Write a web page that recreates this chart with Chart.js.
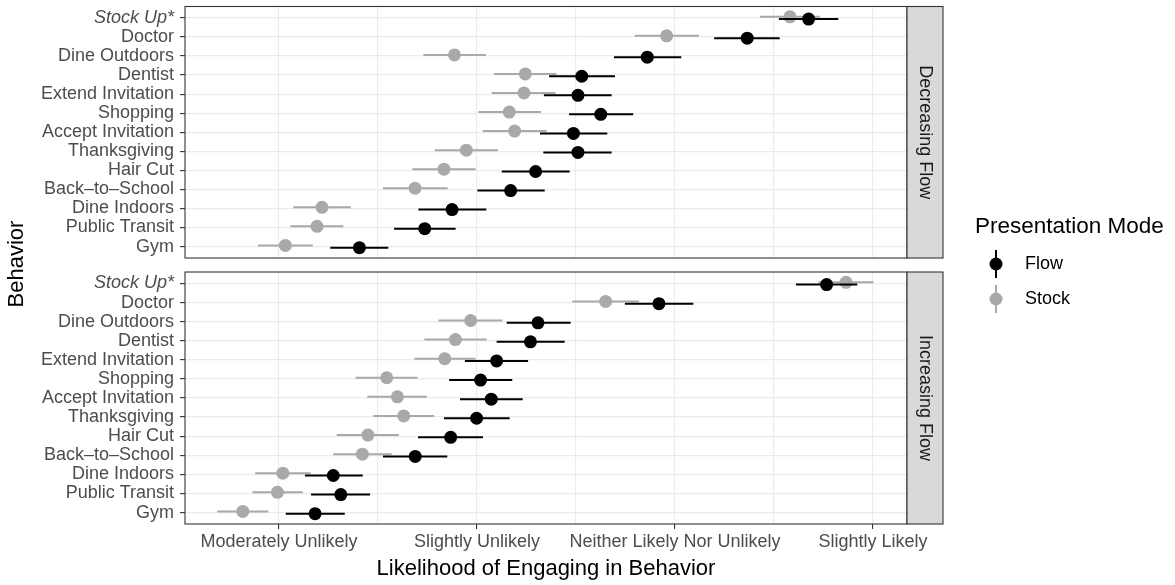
<!DOCTYPE html>
<html>
<head>
<meta charset="utf-8">
<script src="https://cdn.jsdelivr.net/npm/chart.js@4.4.1/dist/chart.umd.min.js"></script>
<style>
  html, body { margin: 0; padding: 0; background: #fff; }
  #wrap { position: relative; width: 1175px; height: 585px; }
  canvas { position: absolute; left: 0; top: 0; }
</style>
</head>
<body>
<div id="wrap">
  <canvas id="topPanel" width="1175" height="585"></canvas>
  <canvas id="bottomPanel" width="1175" height="585"></canvas>
</div>
<script>
// Behaviors, top to bottom as shown in each panel
const behaviors = ["Stock Up*", "Doctor", "Dine Outdoors", "Dentist", "Extend Invitation", "Shopping",
    "Accept Invitation", "Thanksgiving", "Hair Cut", "Back–to–School", "Dine Indoors", "Public Transit", "Gym"];

const xTickValues = [2, 2.5, 3, 3.5, 4, 4.5, 5];
const xTickLabels = ["Moderately Unlikely", "", "Slightly Unlikely", "", "Neither Likely Nor Unlikely", "", "Slightly Likely"];

// Decreasing Flow panel
const decFlowMean  = [4.675, 4.365, 3.860, 3.529, 3.510, 3.625, 3.487, 3.510, 3.296, 3.170, 2.874, 2.736, 2.406];
const decFlowLo    = [4.525, 4.198, 3.692, 3.364, 3.338, 3.465, 3.318, 3.335, 3.125, 3.002, 2.704, 2.581, 2.259];
const decFlowHi    = [4.825, 4.529, 4.032, 3.697, 3.680, 3.789, 3.658, 3.680, 3.468, 3.342, 3.047, 2.892, 2.552];
const decStockMean = [4.581, 3.958, 2.886, 3.244, 3.237, 3.163, 3.190, 2.946, 2.833, 2.687, 2.217, 2.192, 2.032];
const decStockLo   = [4.429, 3.797, 2.729, 3.086, 3.074, 3.007, 3.029, 2.787, 2.673, 2.525, 2.072, 2.057, 1.894];
const decStockHi   = [4.732, 4.121, 3.045, 3.402, 3.397, 3.323, 3.352, 3.106, 2.993, 2.852, 2.362, 2.325, 2.170];

// Increasing Flow panel
const incFlowMean  = [4.766, 3.919, 3.308, 3.270, 3.099, 3.018, 3.072, 2.998, 2.867, 2.688, 2.274, 2.312, 2.182];
const incFlowLo    = [4.611, 3.747, 3.150, 3.099, 2.939, 2.859, 2.914, 2.833, 2.702, 2.525, 2.131, 2.162, 2.034];
const incFlowHi    = [4.921, 4.093, 3.473, 3.443, 3.258, 3.178, 3.231, 3.165, 3.030, 2.850, 2.423, 2.460, 2.332];
const incStockMean = [4.864, 3.650, 2.968, 2.891, 2.837, 2.544, 2.598, 2.630, 2.449, 2.421, 2.019, 1.992, 1.817];
const incStockLo   = [4.724, 3.481, 2.805, 2.734, 2.684, 2.387, 2.446, 2.476, 2.291, 2.274, 1.880, 1.865, 1.688];
const incStockHi   = [5.003, 3.818, 3.128, 3.049, 2.993, 2.700, 2.747, 2.783, 2.606, 2.569, 2.160, 2.120, 1.946];

const FLOW = "#000000";
const STOCK = "#a9a9a9";
const FONT = "'Liberation Sans', Arial, Helvetica, sans-serif";

Chart.defaults.font.family = FONT;

const rowOf = (i) => behaviors.length - 1 - i;

function panelDatasets(flowMean, flowLo, flowHi, stockMean, stockLo, stockHi) {
    const bars = (lo, hi, off) => lo.flatMap((v, i) => [
        { x: v, y: rowOf(i) + off },
        { x: hi[i], y: rowOf(i) + off },
        { x: null, y: null }
    ]);
    const dots = (m, off) => m.map((v, i) => ({ x: v, y: rowOf(i) + off }));
    return [
        { label: "Stock bars", data: bars(stockLo, stockHi, 0.06), showLine: true, spanGaps: false,
          borderColor: STOCK, borderWidth: 2, pointRadius: 0, order: 4 },
        { label: "Stock", data: dots(stockMean, 0.06), backgroundColor: STOCK, borderWidth: 0,
          pointRadius: 6.5, order: 3 },
        { label: "Flow bars", data: bars(flowLo, flowHi, -0.06), showLine: true, spanGaps: false,
          borderColor: FLOW, borderWidth: 2, pointRadius: 0, order: 2 },
        { label: "Flow", data: dots(flowMean, -0.06), backgroundColor: FLOW, borderWidth: 0,
          pointRadius: 6.5, order: 1 }
    ];
}

// panel border + facet strip on the right
const panelFrame = {
    id: "panelFrame",
    afterDatasetsDraw(chart, args, opts) {
        const { ctx, chartArea: a } = chart;
        ctx.save();
        ctx.strokeStyle = "#333333";
        ctx.lineWidth = 1.1;
        ctx.strokeRect(a.left, a.top, a.right - a.left, a.bottom - a.top);
        const sw = 36;
        ctx.fillStyle = "#d9d9d9";
        ctx.fillRect(a.right, a.top, sw, a.bottom - a.top);
        ctx.strokeRect(a.right, a.top, sw, a.bottom - a.top);
        ctx.translate(a.right + sw / 2, (a.top + a.bottom) / 2);
        ctx.rotate(Math.PI / 2);
        ctx.fillStyle = "#1a1a1a";
        ctx.font = "18px " + FONT;
        ctx.textAlign = "center";
        ctx.textBaseline = "middle";
        ctx.fillText(opts.label, 0, 0);
        ctx.restore();
    }
};

// shared y title and legend
const sideText = {
    id: "sideText",
    afterDraw(chart) {
        const ctx = chart.ctx;
        ctx.save();
        ctx.fillStyle = "#000";
        ctx.font = "22px " + FONT;
        ctx.textBaseline = "middle";
        ctx.save();
        ctx.translate(17, 264);
        ctx.rotate(-Math.PI / 2);
        ctx.textAlign = "center";
        ctx.fillText("Behavior", 0, 0);
        ctx.restore();

        ctx.textAlign = "left";
        ctx.font = "22.5px " + FONT;
        ctx.fillText("Presentation Mode", 975, 227);
        const keys = [["Flow", FLOW, 264], ["Stock", STOCK, 299]];
        keys.forEach(([name, col, y]) => {
            ctx.strokeStyle = col;
            ctx.fillStyle = col;
            ctx.lineWidth = 2;
            ctx.beginPath();
            ctx.moveTo(996, y - 14);
            ctx.lineTo(996, y + 14);
            ctx.stroke();
            ctx.beginPath();
            ctx.arc(996, y, 6.5, 0, Math.PI * 2);
            ctx.fill();
            ctx.fillStyle = "#000";
            ctx.font = "18px " + FONT;
            ctx.fillText(name, 1025, y);
        });
        ctx.restore();
    }
};

function makeOptions(pad, showX, stripLabel) {
    return {
        responsive: false,
        animation: false,
        events: [],
        layout: { padding: pad },
        plugins: {
            legend: { display: false },
            tooltip: { enabled: false },
            panelFrame: { label: stripLabel }
        },
        scales: {
            x: {
                type: "linear",
                min: 1.525,
                max: 5.172,
                afterBuildTicks: (axis) => { axis.ticks = xTickValues.map(v => ({ value: v })); },
                afterFit: (axis) => {
                    axis.height = showX ? 61 : 0;
                    axis.paddingLeft = 0;
                    axis.paddingRight = 0;
                },
                border: { display: false },
                grid: {
                    color: "#ebebeb",
                    lineWidth: 1.1,
                    drawTicks: showX,
                    tickLength: 5,
                    tickWidth: 1.1,
                    tickColor: (c) => (c.tick && Number.isInteger(c.tick.value)) ? "#333333" : "rgba(0,0,0,0)"
                },
                ticks: {
                    display: showX,
                    autoSkip: false,
                    maxRotation: 0,
                    padding: 2,
                    color: "#4d4d4d",
                    font: { size: 18 },
                    callback: (v) => xTickLabels[xTickValues.indexOf(v)]
                },
                title: {
                    display: showX,
                    text: "Likelihood of Engaging in Behavior",
                    color: "#000",
                    font: { size: 22 },
                    padding: { top: 0, bottom: 3 }
                }
            },
            y: {
                type: "linear",
                min: -0.6,
                max: 12.6,
                afterBuildTicks: (axis) => { axis.ticks = behaviors.map((b, i) => ({ value: i })); },
                afterFit: (axis) => {
                    axis.width = 185;
                    axis.paddingTop = 0;
                    axis.paddingBottom = 0;
                },
                border: { display: false },
                grid: {
                    color: "#ebebeb",
                    lineWidth: 1.2,
                    tickLength: 5,
                    tickWidth: 1.1,
                    tickColor: "#333333"
                },
                ticks: {
                    autoSkip: false,
                    padding: 6,
                    color: "#4d4d4d",
                    font: (c) => ({ size: 18, style: (c.tick && c.tick.value === 12) ? "italic" : "normal" }),
                    callback: (v) => behaviors[rowOf(v)]
                }
            }
        }
    };
}

new Chart(document.getElementById("topPanel"), {
    type: "scatter",
    data: { datasets: panelDatasets(decFlowMean, decFlowLo, decFlowHi, decStockMean, decStockLo, decStockHi) },
    options: makeOptions({ top: 6, right: 268, bottom: 327, left: 0 }, false, "Decreasing Flow"),
    plugins: [panelFrame]
});

new Chart(document.getElementById("bottomPanel"), {
    type: "scatter",
    data: { datasets: panelDatasets(incFlowMean, incFlowLo, incFlowHi, incStockMean, incStockLo, incStockHi) },
    options: makeOptions({ top: 272, right: 268, bottom: 0, left: 0 }, true, "Increasing Flow"),
    plugins: [panelFrame, sideText]
});
</script>
</body>
</html>
